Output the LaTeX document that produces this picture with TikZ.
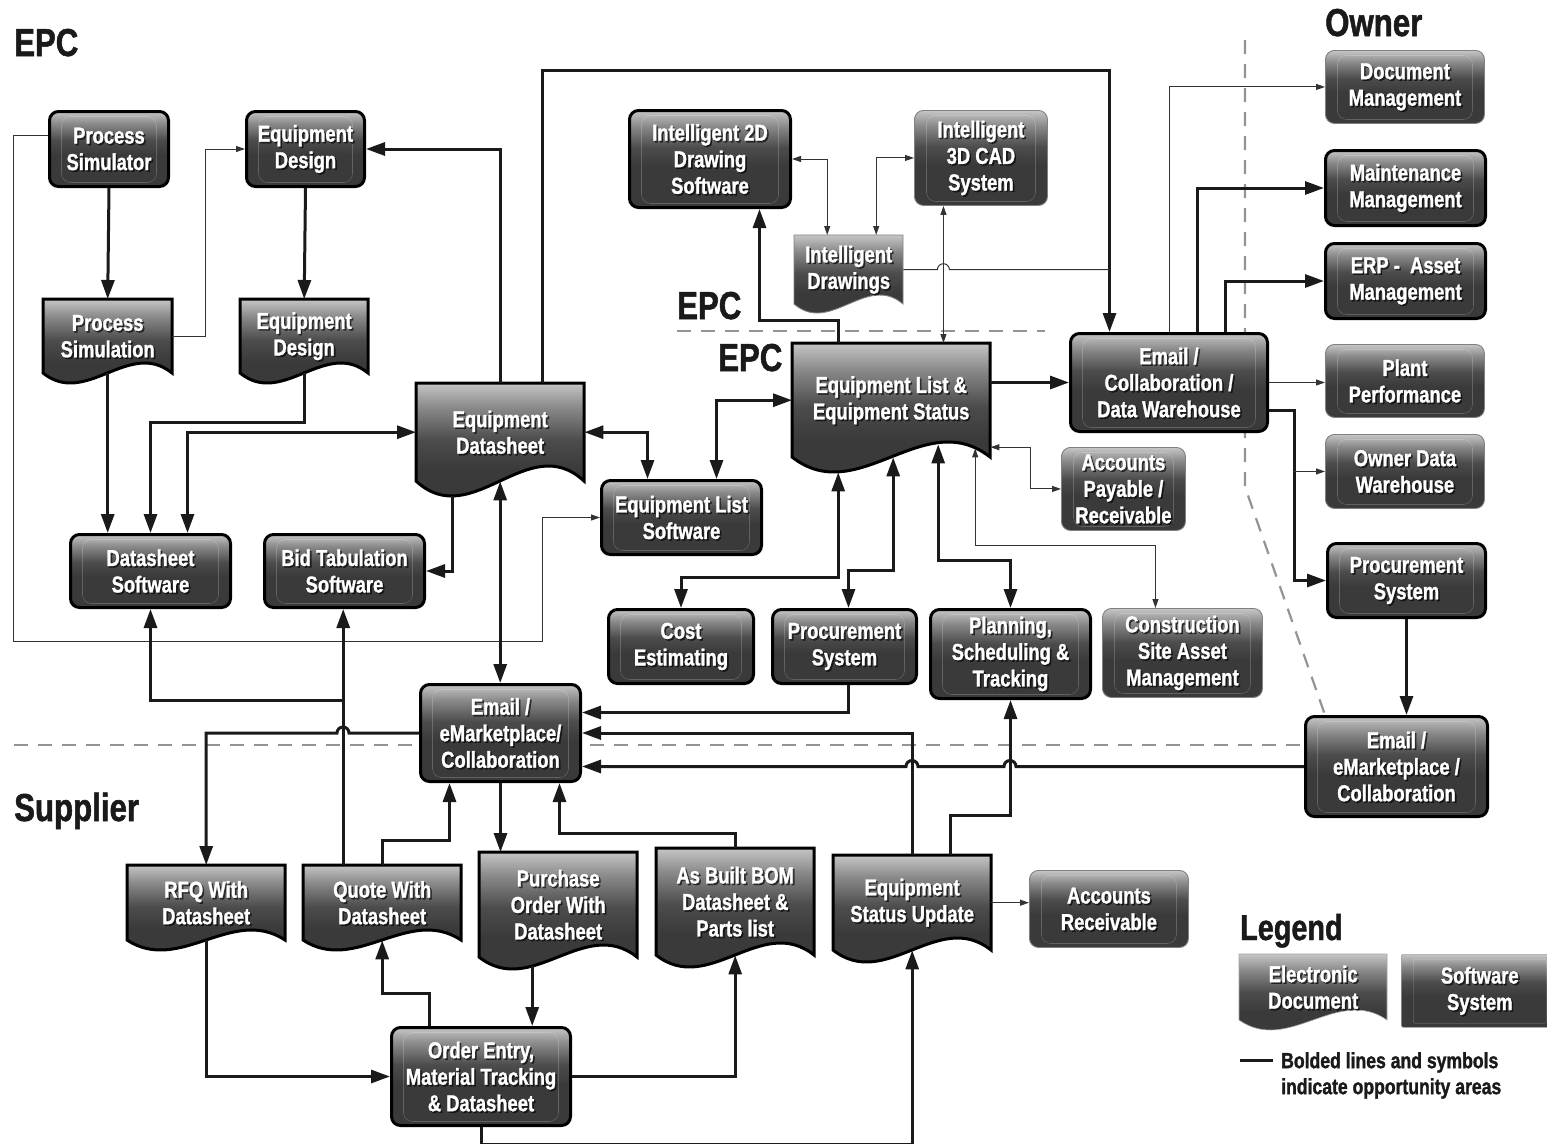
\documentclass[tikz,border=0pt]{standalone}
\usepackage{fontspec}
\newfontfamily\cnd{Liberation Sans}[FakeStretch=0.8,BoldFeatures={FakeBold=1.3}]
\usetikzlibrary{arrows.meta,calc}

\definecolor{shA}{HTML}{C6C6C6}
\definecolor{shB}{HTML}{8A8A8A}
\definecolor{shC}{HTML}{4C4C4C}
\definecolor{shD}{HTML}{3A3A3A}
\definecolor{ink}{HTML}{1A1A1A}
\definecolor{thinink}{HTML}{333333}
\pgfdeclareverticalshading{nodeshade}{100bp}{color(0bp)=(shD); color(25bp)=(shD); color(46bp)=(shD); color(56bp)=(shC); color(67bp)=(shB); color(75bp)=(shA); color(100bp)=(shA)}

% rounded "software system" box: style, x1, y1, x2, y2, name, text
\newcommand\boxnode[7]{%
  \node[nbox,#1,anchor=north west,minimum width={#4-#2},minimum height={#5-#3}] (#6) at (#2,#3) {};
  \node[boxtext,text=black,text opacity=0.6] (#6-s) at ([shift={(1.6pt,-1.6pt)}]#6.center) {#7};
  \node[boxtext] (#6-t) at (#6.center) {#7};}
% "electronic document" with wavy lower edge: style, x1, y1, x2, y2, wave depth, name, text
\newcommand\docnode[8]{%
  \path[shade,shading=nodeshade,#1] (#2,#3) -- (#4,#3) -- (#4,#5)
    .. controls ({#2+2*(#4-#2)/3},{#5-3.46*#6}) and ({#2+(#4-#2)/3},{#5+3.46*#6}) .. (#2,#5) -- cycle;
  \node[inner sep=0pt,anchor=north west,minimum width={#4-#2},minimum height={#5-#3}] (#7) at (#2,#3) {};
  \node[boxtext,text=black,text opacity=0.6] (#7-s) at ([shift={(1.6pt,-1.6pt)}]#7.center) {#8};
  \node[boxtext] (#7-t) at (#7.center) {#8};}

\begin{document}
\begin{tikzpicture}[x=1pt,y=-1pt,
  boxtext/.style={text=white,align=center,font=\cnd\bfseries\fontsize{23}{26.5}\selectfont,inner sep=0pt},
  inner/.style={path picture={\draw[white,opacity=0.2,line width=0.6pt]
      ([xshift=12pt,yshift=-5pt]path picture bounding box.north west) rectangle
      ([xshift=-12pt,yshift=4pt]path picture bounding box.south east);}},
  nbox/.style={inner sep=0pt,shade,shading=nodeshade,rounded corners=9pt,inner},
  bthick/.style={draw=black,line width=3pt},
  bthin/.style={draw=black!50,line width=0.9pt},
  docthick/.style={draw=black,line width=3pt},
  docthin/.style={draw=black!50,line width=0.9pt},
  thk/.style={draw=ink,line width=3pt,>={Triangle[length=19pt,width=13pt]}},
  thn/.style={draw=thinink,line width=1pt,>={Triangle[length=9pt,width=6pt]}},
  divider/.style={draw=black!42,line width=2.2pt,dash pattern=on 14pt off 10pt},
  head/.style={anchor=base west,inner sep=0pt,text=ink,font=\cnd\bfseries\fontsize{39}{42}\selectfont},
]
\useasboundingbox (0,0) rectangle (1547,1143);
\fill[white] (0,0) rectangle (1547,1143);

% region dividers
\draw[divider] (677,331) -- (1045,331);
\draw[divider] (1245,40) -- (1245,487) -- (1325,715);
\draw[divider] (14,745) -- (1300,745);

% region headings
\node[head] (hEPC) at (14,56) {EPC};
\node[head] (hOwner) at (1325,36) {Owner};
\node[head] (hEPCa) at (677,319) {EPC};
\node[head] (hEPCb) at (718,371) {EPC};
\node[head] (hSupplier) at (14,821) {Supplier};

% EPC design side
\boxnode{bthick}{48}{110}{167}{185}{PS}{Process\\Simulator}
\boxnode{bthick}{245}{110}{363}{185}{EDb}{Equipment\\Design}
\docnode{docthick}{43}{299}{172}{373}{10}{PSdoc}{Process\\Simulation}
\docnode{docthick}{240}{299}{368}{373}{10}{EDd}{Equipment\\Design}
\docnode{docthick}{416}{383}{584}{481}{15}{EDS}{Equipment\\Datasheet}
\boxnode{bthick}{600}{479}{760}{553}{ELS}{Equipment List\\Software}
\boxnode{bthick}{69}{533}{229}{606}{DSS}{Datasheet\\Software}
\boxnode{bthick}{263}{533}{423}{606}{BTS}{Bid Tabulation\\Software}

% drawings and equipment list
\boxnode{bthick}{628}{109}{789}{206}{I2D}{Intelligent 2D\\Drawing\\Software}
\boxnode{bthin}{914}{110}{1047}{205}{I3D}{Intelligent\\3D CAD\\System}
\docnode{docthin}{794}{235}{903}{304}{9}{IDo}{Intelligent\\Drawings}
\docnode{docthick}{792}{343}{990}{457}{15}{ELd}{Equipment List \&\\Equipment Status}
\boxnode{bthick}{1069}{332}{1266}{430}{ECDW}{Email /\\Collaboration /\\Data Warehouse}
\boxnode{bthin}{1061}{447}{1185}{530}{AP}{Accounts\\Payable /\\Receivable}
\boxnode{bthin}{1102}{608}{1262}{697}{CSAM}{Construction\\Site Asset\\Management}
\boxnode{bthick}{607}{608}{752}{682}{CE}{Cost\\Estimating}
\boxnode{bthick}{771}{608}{915}{682}{ProcC}{Procurement\\System}
\boxnode{bthick}{929}{608}{1089}{697}{PST}{Planning,\\Scheduling \&\\Tracking}
\boxnode{bthick}{419}{683}{579}{780}{EMC}{Email /\\eMarketplace/\\Collaboration}

% owner side
\boxnode{bthin}{1325}{50}{1484}{123}{DocM}{Document\\Management}
\boxnode{bthick}{1324}{149}{1484}{224}{Maint}{Maintenance\\Management}
\boxnode{bthick}{1324}{242}{1484}{317}{ERP}{ERP -\ \ Asset\\Management}
\boxnode{bthin}{1325}{344}{1484}{417}{Plant}{Plant\\Performance}
\boxnode{bthin}{1325}{434}{1484}{508}{ODW}{Owner Data\\Warehouse}
\boxnode{bthick}{1326}{542}{1484}{616}{ProcR}{Procurement\\System}
\boxnode{bthick}{1304}{715}{1486}{815}{EMCR}{Email /\\eMarketplace /\\Collaboration}

% supplier side
\docnode{docthick}{127}{865}{285}{940}{10}{RFQ}{RFQ With\\Datasheet}
\docnode{docthick}{303}{865}{461}{940}{10}{Quote}{Quote With\\Datasheet}
\docnode{docthick}{479}{852}{637}{957}{12}{PO}{Purchase\\Order With\\Datasheet}
\docnode{docthick}{656}{848}{814}{955}{12}{ABOM}{As Built BOM\\Datasheet \&\\Parts list}
\docnode{docthick}{833}{855}{991}{950}{12}{ESU}{Equipment\\Status Update}
\boxnode{bthin}{1029}{870}{1188}{947}{AR}{Accounts\\Receivable}
\boxnode{bthick}{390}{1026}{569}{1124}{OE}{Order Entry,\\Material Tracking\\\& Datasheet}

% connectors: design chain
\draw[thk,->] (PS.south) -- (PSdoc.north);
\draw[thk,->] (EDb.south) -- (EDd.north);
\draw[thn,->] (PSdoc.east) -- ++(33,0) |- (EDb.west);
\draw[thn,->] ([yshift=14pt]PS.west) -- ++(-35,0) |- (542,641) |- (ELS.west);
\draw[thk,->] (PSdoc.south) -- (PSdoc.south |- DSS.north);
\draw[thk,->] (EDd.south) -- ++(0,49) -| (DSS.north);
\draw[thk,<->] ([xshift=37pt]DSS.north) |- (EDS.west);
\draw[thk,->] (EDS.north) |- (EDb.east);
\draw[thk,->] ([xshift=42pt]EDS.north) -- ++(0,-313) -| ([xshift=-59.5pt]ECDW.north);
\draw[thk,->] ([xshift=-48pt,yshift=-15pt]EDS.south) |- (BTS.east);
\draw[thk,<->] (EDS.east) -| ([xshift=-34pt]ELS.north);
\draw[thk,<->] (EDS.south) -- (EDS.south |- EMC.north);
\draw[thk,<->] ([xshift=35pt]ELS.north) |- (ELd.west);

% connectors: drawings
\draw[thk,->] ([xshift=-53pt]ELd.north) -- ++(0,-23) -| ([xshift=49.5pt]I2D.south);
\draw[thn,<->] (I2D.east) -| ([xshift=-21.5pt]IDo.north);
\draw[thn,<->] ([xshift=27.5pt]IDo.north) |- (I3D.west);
\draw[thn,<->] ([xshift=-37.5pt]I3D.south) -- ([xshift=-37.5pt]I3D.south |- ELd.north);
\draw[thn] (IDo.east) -- ++(34,0) arc[start angle=180,end angle=0,radius=6pt]
  -- ([xshift=-59.5pt]ECDW.north |- IDo.east);

% connectors: equipment list
\draw[thk,->] (ELd.east |- ECDW.west) -- (ECDW.west);
\draw[thn,<->] ([yshift=-47pt]ELd.east) -- ++(40,0) |- (AP.west);
\draw[thn,<->] ([xshift=84pt,yshift=9pt]ELd.south) -- ++(0,97) -| ([xshift=-27pt]CSAM.north);
\draw[thk,<->] ([xshift=-53pt,yshift=-15pt]ELd.south) -- ++(0,105) -| (CE.north);
\draw[thk,<->] ([xshift=2pt]ELd.south) -- ++(0,113) -| ([xshift=4pt]ProcC.north);
\draw[thk,<->] ([xshift=47pt,yshift=13pt]ELd.south) -- ++(0,116) -| (PST.north);

% connectors: owner
\draw[thn,->] ([xshift=0.5pt]ECDW.north) |- (DocM.west);
\draw[thk,->] ([xshift=28.5pt]ECDW.north) |- (Maint.west);
\draw[thk,->] ([xshift=56.5pt]ECDW.north) |- (ERP.west);
\draw[thn,->] (ECDW.east) -- (ECDW.east -| Plant.west);
\draw[thk,->] ([yshift=-28pt]ECDW.east) -- ++(25,0) |- (ProcR.west);
\draw[thn,->] ([xshift=25pt]ECDW.east |- ODW.west) -- (ODW.west);
\draw[thk,->] (ProcR.south) -- (ProcR.south |- EMCR.north);
\draw[thk,->] (EMCR.west) -- ++(-288,0) arc[start angle=0,end angle=180,radius=6pt]
  -- ++(-86,0) arc[start angle=0,end angle=180,radius=6pt] -- (EMC.east |- EMCR.west);

% connectors: supplier exchange
\draw[thk,->] ([xshift=4pt]ProcC.south) |- ([yshift=20.5pt]EMC.east);
\draw[thk,->] (ESU.north) |- (EMC.east);
\draw[thk,->] ([xshift=38pt]ESU.north) -- ++(0,-40) -| (PST.south);
\draw[thk,->] (EMC.west) -- ++(-70,0) arc[start angle=0,end angle=180,radius=6pt] -| (RFQ.north);
\draw[thk,->] ([xshift=-39pt]Quote.north) -- ([xshift=-39pt]Quote.north |- BTS.south);
\draw[thk,->] ([yshift=-91pt]BTS.south) -| (DSS.south);
\draw[thk,->] (Quote.north) -- ++(0,-25) -| ([xshift=-51pt]EMC.south);
\draw[thk,->] (EMC.south) -- (EMC.south |- PO.north);
\draw[thk,->] (ABOM.north) -- ++(0,-15) -| ([xshift=59pt]EMC.south);
\draw[thk,->] ([xshift=-26pt,yshift=-9pt]PO.south) -- ([xshift=-26pt]PO.south |- OE.north);
\draw[thk,->] (RFQ.south) |- (OE.west);
\draw[thk,->] ([xshift=-52pt]OE.north) -- ++(0,-33) -| (Quote.south);
\draw[thk,->] (OE.east) -| (ABOM.south);
\draw[thk,->] (OE.south) -- ++(0,17) -| (ESU.south);
\draw[thn,->] (ESU.east) -- (ESU.east -| AR.west);

% legend
\node[head,font=\cnd\bfseries\fontsize{36}{40}\selectfont] (hLegend) at (1240,940) {Legend};
\docnode{draw=black!35,line width=0.6pt}{1239}{954}{1387}{1020}{10}{legDoc}{Electronic\\Document}
\begin{scope}
  \clip (0,0) rectangle (1547,1143);
  \boxnode{draw=black!35,line width=0.6pt,rounded corners=2pt}{1401}{954}{1558}{1027}{legBox}{Software\\System}
\end{scope}
\coordinate (legA) at (1240,1060);
\coordinate (legB) at (1273,1060);
\draw[thk] (legA) -- (legB);
\node[anchor=north west,inner sep=0pt,align=left,text=ink,
  font=\cnd\bfseries\fontsize{22}{26}\selectfont] (legText) at (1281,1052)
  {Bolded lines and symbols\\indicate opportunity areas};
\end{tikzpicture}
\end{document}
